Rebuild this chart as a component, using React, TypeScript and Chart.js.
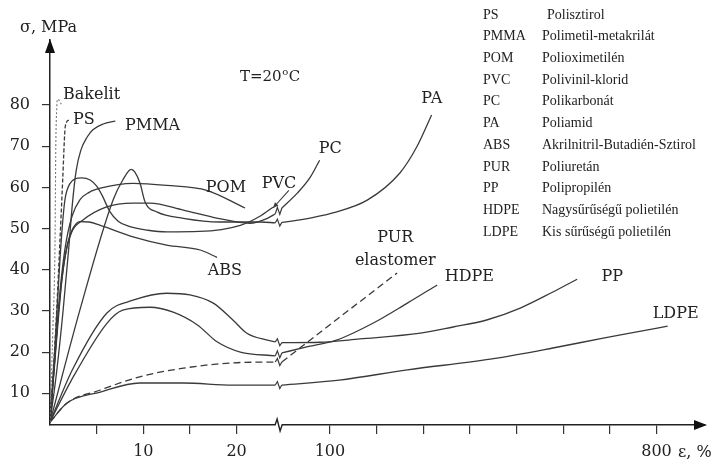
import React, { useEffect, useRef } from "react";
import { Chart, registerables } from "chart.js";

Chart.register(...registerables);

// x axis units: 0..~24.5 = strain %, after the break 5 units per 100 %
const xTickValues = [5, 10, 15, 20, 30, 35, 40, 45, 50, 55, 60, 65];
const xTickLabels = ["", "10", "", "20", "100", "", "", "", "", "", "", "800"];
const yTickValues = [10, 20, 30, 40, 50, 60, 70, 80];
const breakU = 24.5;

const bakelitX = [0, 0.3, 0.54, 0.62, 0.72, 0.78, 0.95, 1.2];
const bakelitY = [3, 25, 47, 70, 79, 81.4, 81.2, 80.2];

const psX = [0, 0.6, 1.07, 1.36, 1.6, 1.79, 1.95, 2.2];
const psY = [3, 25, 47.2, 61.8, 73.9, 75.9, 76.3, 76.1];

const pmmaX = [0, 0.7, 1.4, 2.0, 2.4, 2.8, 3.3, 4.0, 4.6, 5.7, 7.0];
const pmmaY = [3, 15, 30, 45, 56, 64, 69, 72.3, 74, 75.4, 76.1];

const pvcX = [0, 0.5, 1.0, 1.3, 1.6, 2.1, 2.7, 3.4, 4.3, 5.0, 5.6, 6.4, 7.3, 8.4, 10.5, 12.5, 16, 20.4, 22.5, 23.9];
const pvcY = [3, 20, 40, 50, 57, 60.8, 62.1, 62.3, 61.8, 60.3, 58, 54.2, 51.8, 50.6, 49.6, 49.2, 49.3, 50.8, 53, 55.2];

const pcX = [0, 0.5, 1.0, 1.6, 2.3, 3.5, 6.0, 8.9, 10.7, 14.3, 18, 21.4, 23.3, 24.15, 24.85, 26.5, 27.9, 28.9];
const pcY = [3, 18, 32, 43, 49, 52, 55.2, 56.2, 56.2, 54.5, 52.5, 51.3, 52.5, 53.6, 55.0, 58.6, 62.5, 66.6];

const paX = [0, 3.2, 6.75, 7.8, 8.7, 9.1, 9.65, 10.2, 11.5, 14.3, 18.2, 22.5, 24.15, 24.85, 26.8, 30.3, 34, 37.5, 39.3, 40.9];
const paY = [3, 30.2, 56.9, 61.8, 64.4, 63.7, 61, 56.4, 54, 52.5, 51.6, 51.6, 51.4, 51.5, 52.1, 53.8, 56.9, 63.5, 69.8, 77.6];

const pomX = [0, 0.5, 1.0, 1.6, 2.36, 3.2, 4.2, 5.4, 8.9, 12.5, 16.8, 20.9];
const pomY = [3, 18, 33, 45, 53, 57, 58.8, 59.8, 61, 60.5, 59.3, 55];

const absX = [0, 0.6, 1.3, 1.9, 2.4, 3.2, 4.2, 5.4, 8.9, 12.5, 16.1, 17.9];
const absY = [3, 20, 38, 46.5, 49.8, 51.7, 51.6, 50.8, 48, 46, 44.8, 43];

const hdpeX = [0, 2.3, 6.1, 7.8, 10.7, 13.2, 15.8, 17.9, 20.4, 24.15, 24.85, 27.4, 30.7, 34.6, 38.3, 41.5];
const hdpeY = [3, 13.2, 27, 30.2, 30.9, 29.7, 26.6, 22.5, 20, 19.1, 19.8, 21.2, 22.9, 27, 31.9, 36.3];

const ppX = [0, 2.4, 6.1, 8.9, 12.5, 15, 17.5, 19.6, 21.1, 23.3, 24.15, 24.85, 28.9, 33.2, 39.7, 43.2, 46.8, 50.4, 53.9, 56.5];
const ppY = [3, 15.7, 29.5, 32.6, 34.3, 33.9, 31.9, 27.8, 24.6, 22.9, 22.5, 22.3, 22.4, 23.2, 24.6, 26.1, 27.8, 30.7, 34.6, 37.7];

const purX = [0, 1.8, 5.4, 9.6, 14.3, 19.6, 24.15, 24.85, 31, 37.2];
const purY = [3, 7.6, 10.8, 14, 16.1, 17.4, 17.6, 17.6, 28.4, 39.2];

const ldpeX = [0, 1.8, 5.4, 9.6, 14.3, 19.6, 24.15, 24.85, 31, 38.3, 47.2, 53.9, 59.3, 62.9, 66.2];
const ldpeY = [3, 7.6, 10.3, 12.5, 12.5, 12, 12, 12, 13.2, 15.7, 18.3, 21, 23.4, 24.9, 26.3];

const legendAbbr = ["PS", "PMMA", "POM", "PVC", "PC", "PA", "ABS", "PUR", "PP", "HDPE", "LDPE"];
const legendNames = [
  "Polisztirol",
  "Polimetil-metakrilát",
  "Polioximetilén",
  "Polivinil-klorid",
  "Polikarbonát",
  "Poliamid",
  "Akrilnitril-Butadién-Sztirol",
  "Poliuretán",
  "Polipropilén",
  "Nagysűrűségű polietilén",
  "Kis sűrűségű polietilén",
];

// curve labels: [text, u, sigma, align]
const curveLabels: [string, number, number, CanvasTextAlign][] = [
  ["Bakelit", 1.39, 82.6, "left"],
  ["PS", 2.47, 76.3, "left"],
  ["PMMA", 8.04, 74.9, "left"],
  ["POM", 16.7, 59.8, "left"],
  ["PVC", 22.7, 60.8, "left"],
  ["PC", 28.8, 69.3, "left"],
  ["PA", 39.8, 81.4, "left"],
  ["ABS", 16.9, 39.7, "left"],
  ["PUR", 37.0, 47.7, "center"],
  ["elastomer", 37.0, 42.1, "center"],
  ["HDPE", 42.3, 38.2, "left"],
  ["PP", 59.1, 38.2, "left"],
  ["LDPE", 64.6, 29.2, "left"],
];

const pvcArrow = { fromU: 25.6, fromS: 59.3, toU: 23.9, toS: 55.0 };

const LINE = "#3a3a3a";
const TEXT = "#222";

type Series = { label: string; xs: number[]; ys: number[]; color?: string; width?: number; dash?: number[] };

const series: Series[] = [
  { label: "Bakelit", xs: bakelitX, ys: bakelitY, color: "#777", width: 1.1, dash: [2, 2] },
  { label: "PS", xs: psX, ys: psY, dash: [4, 2] },
  { label: "PMMA", xs: pmmaX, ys: pmmaY },
  { label: "PVC", xs: pvcX, ys: pvcY },
  { label: "PC", xs: pcX, ys: pcY },
  { label: "PA", xs: paX, ys: paY },
  { label: "POM", xs: pomX, ys: pomY },
  { label: "ABS", xs: absX, ys: absY },
  { label: "HDPE", xs: hdpeX, ys: hdpeY },
  { label: "PP", xs: ppX, ys: ppY },
  { label: "PUR", xs: purX, ys: purY, dash: [7, 4] },
  { label: "LDPE", xs: ldpeX, ys: ldpeY },
];

function splitAtBreak(s: Series) {
  const a: { x: number; y: number }[] = [];
  const b: { x: number; y: number }[] = [];
  s.xs.forEach((x, i) => {
    (x < breakU ? a : b).push({ x, y: s.ys[i] });
  });
  return [a, b].filter((p) => p.length > 0);
}

const decorPlugin = {
  id: "decor",
  afterDraw(chart: any) {
    const ctx: CanvasRenderingContext2D = chart.ctx;
    const xs = chart.scales.x;
    const ys = chart.scales.y;
    const ca = chart.chartArea;
    ctx.save();

    // curve break squiggles connecting the two halves
    ctx.lineWidth = 1.2;
    ctx.strokeStyle = LINE;
    series.forEach((s) => {
      const parts = splitAtBreak(s);
      if (parts.length < 2) return;
      const p1 = parts[0][parts[0].length - 1];
      const p2 = parts[1][0];
      const x1 = xs.getPixelForValue(p1.x);
      const y1 = ys.getPixelForValue(p1.y);
      const x2 = xs.getPixelForValue(p2.x);
      const y2 = ys.getPixelForValue(p2.y);
      const mx = (x1 + x2) / 2;
      const my = (y1 + y2) / 2;
      if (s.dash) ctx.setLineDash([]);
      ctx.beginPath();
      ctx.moveTo(x1, y1);
      ctx.lineTo(mx - 1.2, my - 3.5);
      ctx.lineTo(mx + 1.2, my + 3.5);
      ctx.lineTo(x2, y2);
      ctx.stroke();
    });

    // axis arrows
    ctx.fillStyle = "#111";
    ctx.beginPath();
    ctx.moveTo(ca.left, ca.top - 1);
    ctx.lineTo(ca.left - 5, ca.top + 13);
    ctx.lineTo(ca.left + 5, ca.top + 13);
    ctx.closePath();
    ctx.fill();
    ctx.beginPath();
    ctx.moveTo(ca.right + 2, ca.bottom);
    ctx.lineTo(ca.right - 11, ca.bottom - 5);
    ctx.lineTo(ca.right - 11, ca.bottom + 5);
    ctx.closePath();
    ctx.fill();

    // axis break
    const bx = xs.getPixelForValue(breakU);
    ctx.fillStyle = "#fff";
    ctx.fillRect(bx - 3, ca.bottom - 2, 6, 4);
    ctx.strokeStyle = "#222";
    ctx.lineWidth = 1.4;
    ctx.beginPath();
    ctx.moveTo(bx - 3.5, ca.bottom);
    ctx.lineTo(bx - 1.5, ca.bottom - 6);
    ctx.lineTo(bx + 1.5, ca.bottom + 6);
    ctx.lineTo(bx + 3.5, ca.bottom);
    ctx.stroke();

    // PVC pointer
    const ax1 = xs.getPixelForValue(pvcArrow.fromU);
    const ay1 = ys.getPixelForValue(pvcArrow.fromS);
    const ax2 = xs.getPixelForValue(pvcArrow.toU);
    const ay2 = ys.getPixelForValue(pvcArrow.toS);
    ctx.strokeStyle = LINE;
    ctx.lineWidth = 1.1;
    ctx.beginPath();
    ctx.moveTo(ax1, ay1);
    ctx.lineTo(ax2, ay2);
    ctx.stroke();
    const ang = Math.atan2(ay2 - ay1, ax2 - ax1);
    ctx.fillStyle = LINE;
    ctx.beginPath();
    ctx.moveTo(ax2, ay2);
    ctx.lineTo(ax2 - 6 * Math.cos(ang - 0.4), ay2 - 6 * Math.sin(ang - 0.4));
    ctx.lineTo(ax2 - 6 * Math.cos(ang + 0.4), ay2 - 6 * Math.sin(ang + 0.4));
    ctx.closePath();
    ctx.fill();

    // texts
    ctx.fillStyle = TEXT;
    ctx.textBaseline = "middle";
    ctx.font = "16px 'DejaVu Serif'";
    curveLabels.forEach(([t, u, s, al]) => {
      ctx.textAlign = al;
      ctx.fillText(t, xs.getPixelForValue(u), ys.getPixelForValue(s));
    });
    ctx.textAlign = "left";
    ctx.fillText("σ, MPa", 20, 28);
    ctx.fillText("ε, %", 678, 453);
    ctx.font = "15px 'DejaVu Serif'";
    ctx.fillText("T=20", 240, 77);
    const tw = ctx.measureText("T=20").width;
    ctx.font = "10px 'DejaVu Serif'";
    ctx.fillText("o", 240 + tw + 0.5, 72);
    ctx.font = "15px 'DejaVu Serif'";
    ctx.fillText("C", 240 + tw + 7, 77);

    // legend table
    ctx.font = "14px 'Liberation Serif'";
    legendAbbr.forEach((a, i) => {
      const y = 15 + i * 21.7;
      ctx.fillText(a, 483, y);
      ctx.fillText(legendNames[i], i === 0 ? 547 : 542, y);
    });
    ctx.restore();
  },
};

export default function App() {
  const ref = useRef<HTMLCanvasElement | null>(null);
  useEffect(() => {
    if (!ref.current) return;
    const datasets: any[] = [];
    series.forEach((s) => {
      splitAtBreak(s).forEach((data) => {
        datasets.push({
          label: s.label,
          data,
          showLine: true,
          borderColor: s.color || LINE,
          borderWidth: s.width || 1.3,
          borderDash: s.dash || [],
          pointRadius: 0,
          fill: false,
          cubicInterpolationMode: "monotone",
        });
      });
    });
    const chart = new Chart(ref.current, {
      type: "scatter",
      data: { datasets },
      options: {
        animation: false,
        responsive: false,
        events: [],
        layout: { padding: { top: 40, right: 15, left: 0, bottom: 0 } },
        plugins: { legend: { display: false }, tooltip: { enabled: false } },
        scales: {
          x: {
            type: "linear",
            min: 0,
            max: 70.2,
            afterBuildTicks: (s: any) => {
              s.ticks = xTickValues.map((v) => ({ value: v }));
            },
            afterFit: (s: any) => {
              s.height = 41;
            },
            ticks: {
              autoSkip: false,
              maxRotation: 0,
              padding: 8,
              color: TEXT,
              font: { family: "'DejaVu Serif'", size: 16 },
              callback: (v: any) => {
                const i = xTickValues.indexOf(Number(v));
                return i >= 0 ? xTickLabels[i] : "";
              },
            },
            grid: { drawOnChartArea: false, drawTicks: true, tickLength: 9, color: "#333", lineWidth: 1.2 },
            border: { display: true, color: "#222", width: 1.5 },
          },
          y: {
            type: "linear",
            min: 2.3,
            max: 95.8,
            afterBuildTicks: (s: any) => {
              s.ticks = yTickValues.map((v) => ({ value: v }));
            },
            afterFit: (s: any) => {
              s.width = 50;
            },
            ticks: {
              padding: 12,
              color: TEXT,
              font: { family: "'DejaVu Serif'", size: 16 },
            },
            grid: { drawOnChartArea: false, drawTicks: true, tickLength: 8, color: "#333", lineWidth: 1.2 },
            border: { display: true, color: "#222", width: 1.5 },
          },
        },
      },
      plugins: [decorPlugin],
    } as any);
    return () => chart.destroy();
  }, []);
  return (
    <div style={{ position: "fixed", left: 0, top: 0, width: 720, height: 466, background: "#fff" }}>
      <canvas ref={ref} width={720} height={466} style={{ display: "block", width: 720, height: 466 }} />
    </div>
  );
}
